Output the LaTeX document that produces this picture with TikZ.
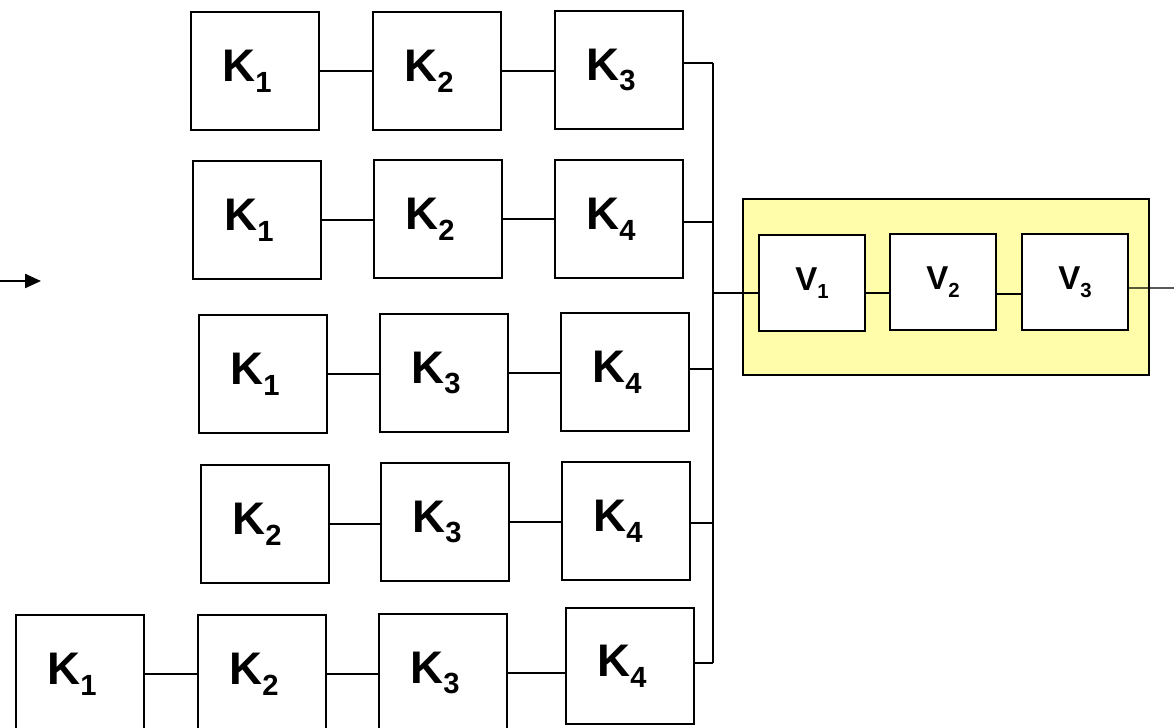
\documentclass[tikz,border=0pt]{standalone}
\usepackage{fontspec}
\setmainfont{Liberation Sans}
\usetikzlibrary{arrows.meta}
\definecolor{paleyellow}{RGB}{255,252,170}
\newcommand{\ksub}[2]{#1\raisebox{-3.1pt}{\fontsize{8.3}{8.3}\selectfont #2}\kern1.6mm}
\newcommand{\vsub}[2]{#1\raisebox{-2.4pt}{\fontsize{5.8}{6}\selectfont #2}}
\tikzset{
  kbox/.style={draw, line width=0.75pt, minimum width=12.8mm, minimum height=11.8mm,
    inner sep=0pt, font=\fontsize{13}{13}\selectfont\bfseries},
  vbox/.style={draw, fill=white, line width=0.4pt, minimum width=10.6mm, minimum height=9.6mm,
    inner sep=0pt, font=\fontsize{9.4}{9.4}\selectfont\bfseries},
  wire/.style={line width=0.3pt}
}
\begin{document}
\begin{tikzpicture}[x=0.1mm,y=-0.1mm]
      \clip (0,0) rectangle (1174,728);
      \node[kbox] (a1) at (255,71) {\ksub{K}{1}};
      \node[kbox] (a2) at (437,71) {\ksub{K}{2}};
      \node[kbox] (a3) at (619,70) {\ksub{K}{3}};
      \node[kbox] (b1) at (257,220) {\ksub{K}{1}};
      \node[kbox] (b2) at (438,219) {\ksub{K}{2}};
      \node[kbox] (b4) at (619,219) {\ksub{K}{4}};
      \node[kbox] (c1) at (263,374) {\ksub{K}{1}};
      \node[kbox] (c3) at (444,373) {\ksub{K}{3}};
      \node[kbox] (c4) at (625,372) {\ksub{K}{4}};
      \node[kbox] (d2) at (265,524) {\ksub{K}{2}};
      \node[kbox] (d3) at (445,522) {\ksub{K}{3}};
      \node[kbox] (d4) at (626,521) {\ksub{K}{4}};
      \node[kbox] (e1) at (80,674) {\ksub{K}{1}};
      \node[kbox] (e2) at (262,674) {\ksub{K}{2}};
      \node[kbox] (e3) at (443,673) {\ksub{K}{3}};
      \node[kbox, minimum height=11.6mm] (e4) at (630,666) {\ksub{K}{4}};
      \draw[fill=paleyellow, line width=0.35pt] (743,199) rectangle (1149,375);
      \node[vbox] (v1) at (812,283) {\vsub{V}{1}};
      \node[vbox] (v2) at (943,282) {\vsub{V}{2}};
      \node[vbox] (v3) at (1075,282) {\vsub{V}{3}};
      \coordinate (bus) at (713,0);
      \coordinate (in) at (0,281);
      \coordinate (inend) at (41,281);
      \coordinate (out) at (1174,288);
      \coordinate (v1in) at ([yshift=-1mm]v1.west);
      \draw[line width=0.65pt, -{Triangle[length=1.6mm,width=1.4mm]}] (in) -- (inend);
      \foreach \p/\q in {a1/a2,a2/a3,b1/b2,b2/b4,c1/c3,c3/c4,d2/d3,d3/d4,e1/e2,e2/e3,e3/e4}
        \draw[wire] (\p.east) -- (\p.east -| \q.west);
      \foreach \p/\dy in {a3/-7,b4/3,c4/-3,d4/2,e4/-3}
        \draw[wire] ([yshift=-\dy*0.1mm]\p.east) -- ([yshift=-\dy*0.1mm]\p.east -| bus);
      \draw[wire] ([yshift=0.7mm]a3.east -| bus) -- ([yshift=0.3mm]e4.east -| bus);
      \draw[wire] (bus |- v1in) -- (v1in);
      \draw[wire] ([yshift=-1mm]v1.east) -- ([yshift=-1mm]v1.east -| v2.west);
      \draw[wire] ([yshift=-1.2mm]v2.east) -- ([yshift=-1.2mm]v2.east -| v3.west);
      \draw[wire] ([yshift=-0.6mm]v3.east) -- (out);
\end{tikzpicture}
\end{document}
